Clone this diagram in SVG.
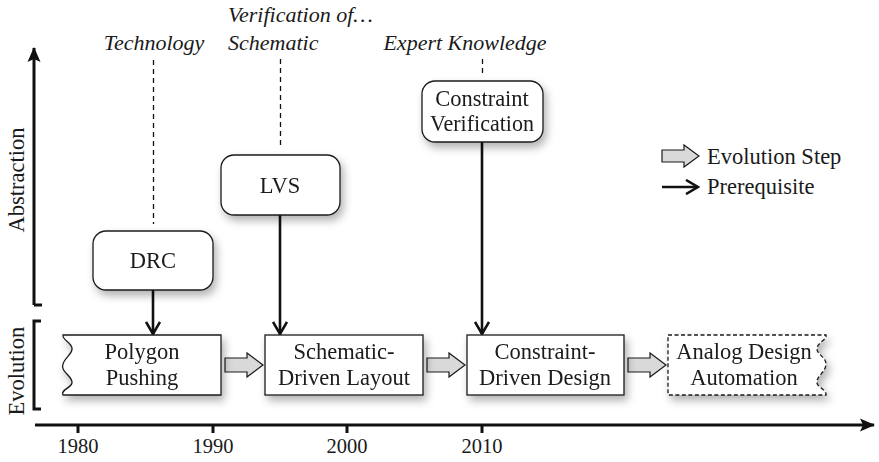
<svg xmlns="http://www.w3.org/2000/svg" width="879" height="462" viewBox="0 0 879 462" font-family="'Liberation Serif', 'Times New Roman', serif">
<style>
text{font-family:'Liberation Serif','Times New Roman',serif;fill:#1a1a1a;}
.t{font-size:22.5px;text-anchor:middle;}
.it{font-size:22px;font-style:italic;}
.box{fill:#fff;stroke:#1a1a1a;stroke-width:1.3;}
.dash{stroke:#111;stroke-width:1.3;stroke-dasharray:5,4;fill:none;}
.pre{stroke:#111;stroke-width:2.6;fill:none;marker-end:url(#ah);}
.blk{fill:#d9d9d9;stroke:#1a1a1a;stroke-width:1.2;}
.ax{stroke:#111;stroke-width:3;fill:none;}
.yr{font-size:20.5px;text-anchor:middle;}
</style>
<defs>
<filter id="sh" x="-20%" y="-20%" width="150%" height="160%">
<feDropShadow dx="3" dy="5" stdDeviation="4" flood-color="#000" flood-opacity="0.3"/>
</filter>
<marker id="ah" markerWidth="16" markerHeight="16" viewBox="0 0 16 16" refX="14" refY="8" orient="auto" markerUnits="userSpaceOnUse">
<path d="M2,1 L14,8 L2,15" fill="none" stroke="#111" stroke-width="2.6"/>
</marker>
<marker id="ax" markerWidth="16" markerHeight="16" viewBox="0 0 16 16" refX="14" refY="8" orient="auto" markerUnits="userSpaceOnUse">
<path d="M0,1.5 L15,8 L0,14.5 L3,8 Z" fill="#111"/>
</marker>
</defs>

<g id="axes">
<path class="ax" d="M34,305 L34,48" marker-end="url(#ax)"/>
<path class="ax" d="M34,305 L42,305"/>
<path class="ax" d="M41,321 L34,321 L34,409 L41,409"/>
<path class="ax" d="M35,425 L874,425" marker-end="url(#ax)"/>
<path class="ax" d="M78,425 V433 M213,425 V433 M347,425 V433 M482,425 V433"/>
<text class="yr" x="78" y="453">1980</text>
<text class="yr" x="213" y="453">1990</text>
<text class="yr" x="347" y="453">2000</text>
<text class="yr" x="482" y="453">2010</text>
<text transform="translate(24,180) rotate(-90)" font-size="22.5" text-anchor="middle">Abstraction</text>
<text transform="translate(24,371) rotate(-90)" font-size="22.5" text-anchor="middle">Evolution</text>
</g>

<g id="labels">
<text class="it" x="154" y="50" text-anchor="middle">Technology</text>
<text class="it" x="228" y="22">Verification of…</text>
<text class="it" x="228" y="50">Schematic</text>
<text class="it" x="465" y="50" text-anchor="middle">Expert Knowledge</text>
</g>

<g id="connectors">
<path class="dash" d="M153.5,60 V224"/>
<path class="dash" d="M280.5,59 V148"/>
<path class="dash" d="M482.5,59 V74"/>
<path class="pre" d="M153,290 V334"/>
<path class="pre" d="M280,215 V334"/>
<path class="pre" d="M482,142 V334"/>
<path class="blk" d="M225,358 H247 V353 L263,365 L247,377 V372 H225 Z"/>
<path class="blk" d="M427,358 H449 V353 L465,365 L449,377 V372 H427 Z"/>
<path class="blk" d="M628,358 H650 V353 L666,365 L650,377 V372 H628 Z"/>
</g>

<g id="drc" filter="url(#sh)">
<rect class="box" x="93" y="231" width="120" height="59" rx="13"/>
<text class="t" x="153" y="268">DRC</text>
</g>
<g id="lvs" filter="url(#sh)">
<rect class="box" x="221" y="155" width="119" height="60" rx="13"/>
<text class="t" x="280" y="193">LVS</text>
</g>
<g id="cv" filter="url(#sh)">
<rect class="box" x="422" y="81" width="121" height="61" rx="13"/>
<text class="t" x="482" y="106">Constraint</text>
<text class="t" x="482" y="131" textLength="104" lengthAdjust="spacingAndGlyphs">Verification</text>
</g>

<g id="polygon" filter="url(#sh)">
<path class="box" d="M63,335 H221 V395 H63 C60,390 71,388 72,383 C73,376 60,372 63,364 C65,357 73,354 72,348 C71,342 62,340 63,335 Z"/>
<text class="t" x="142" y="359">Polygon</text>
<text class="t" x="142" y="385">Pushing</text>
</g>
<g id="sdl" filter="url(#sh)">
<rect class="box" x="265" y="335" width="158" height="60"/>
<text class="t" x="344" y="359">Schematic-</text>
<text class="t" x="344" y="385">Driven Layout</text>
</g>
<g id="cdd" filter="url(#sh)">
<rect class="box" x="467" y="335" width="157" height="60"/>
<text class="t" x="545" y="359">Constraint-</text>
<text class="t" x="545" y="385">Driven Design</text>
</g>
<g id="ada" filter="url(#sh)">
<path class="box" style="stroke-dasharray:4,2.5" d="M668,335 H826 C827,340 818,342 817,348 C816,354 826,357 826,364 C826,372 816,376 817,383 C818,388 827,390 826,395 H668 Z"/>
<text class="t" x="744" y="359">Analog Design</text>
<text class="t" x="744" y="385">Automation</text>
</g>

<g id="legend">
<path class="blk" d="M662,150 H684 V145 L699,156 L684,167 V162 H662 Z"/>
<text x="707" y="164" font-size="22.5">Evolution Step</text>
<path class="pre" d="M662,187 H698"/>
<text x="707" y="194" font-size="22.5">Prerequisite</text>
</g>
</svg>
